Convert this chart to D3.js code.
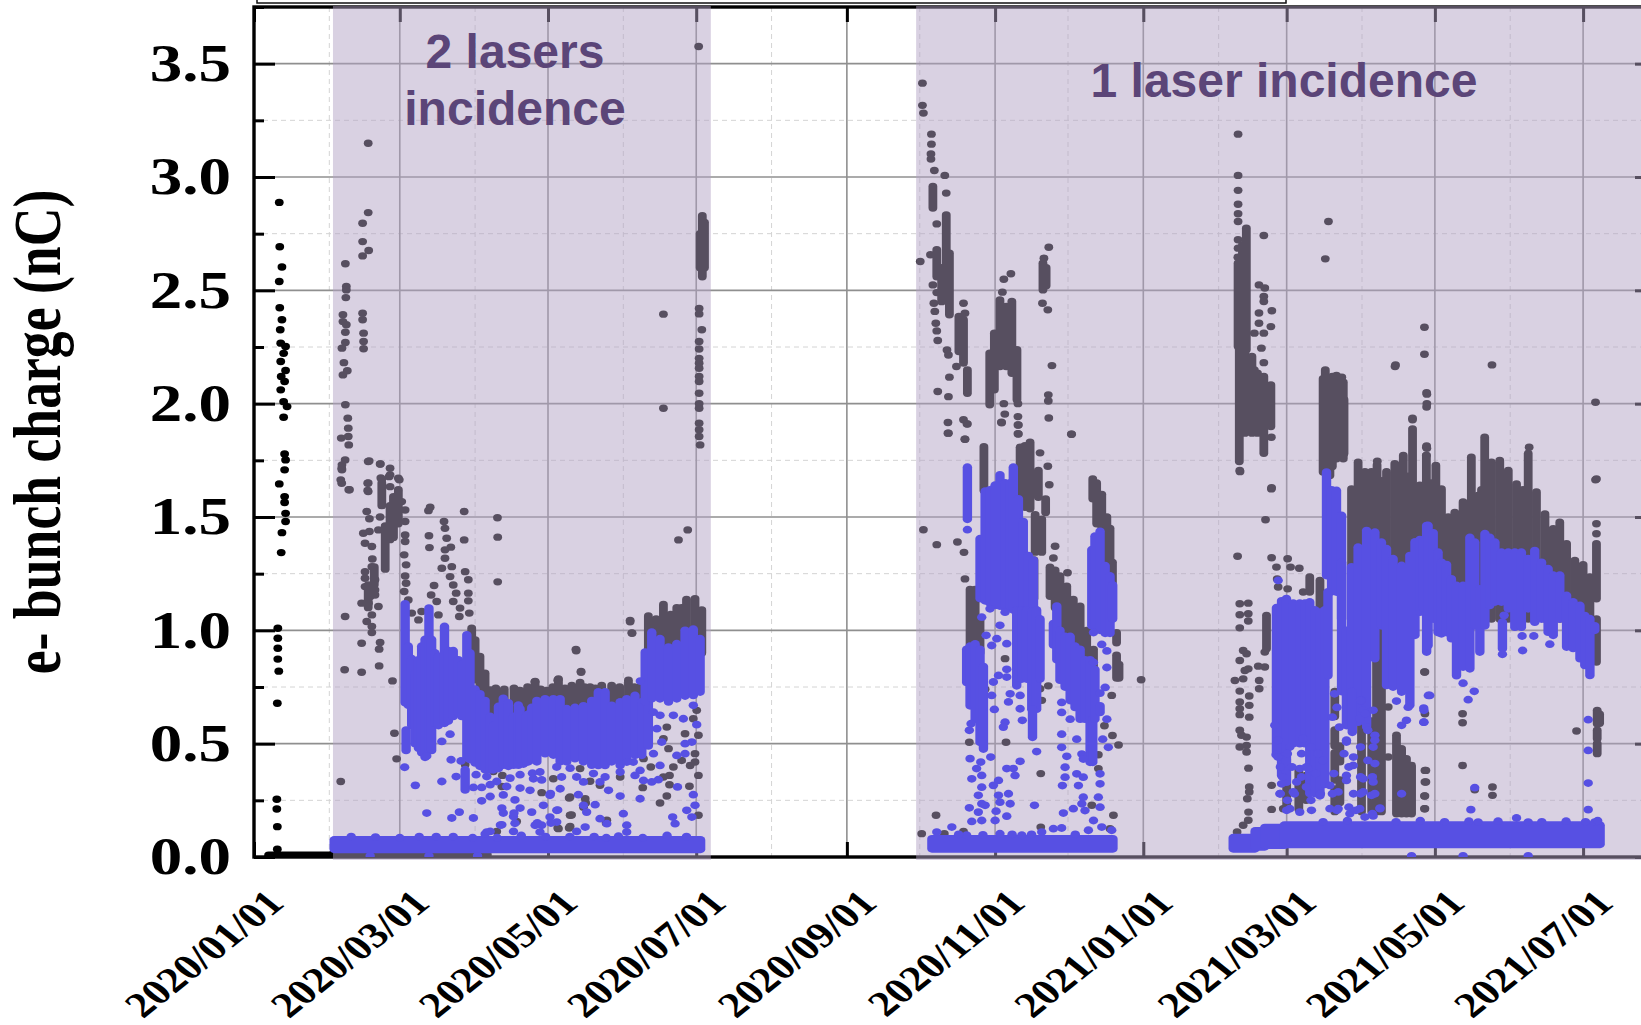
<!DOCTYPE html>
<html>
<head>
<meta charset="utf-8">
<style>
  html, body { margin: 0; padding: 0; background: #fff; overflow: hidden; }
  svg { display: block; }
</style>
<script src="https://d3js.org/d3.v7.min.js"></script>
</head>
<body>
<div id="chart"></div>
<script>
// Values. x is days since 2020/01/01, y is charge in nC.
const TICK_DATES = ['2020/01/01', '2020/03/01', '2020/05/01', '2020/07/01', '2020/09/01', '2020/11/01',
  '2021/01/01', '2021/03/01', '2021/05/01', '2021/07/01'];
const MINOR_DATES = ['2020/02/01', '2020/04/01', '2020/06/01', '2020/08/01', '2020/10/01', '2020/12/01',
  '2021/02/01', '2021/04/01', '2021/06/01', '2021/08/01'];
const Y_TICKS = [0, 0.5, 1, 1.5, 2, 2.5, 3, 3.5];
const Y_MINOR = [0.25, 0.75, 1.25, 1.75, 2.25, 2.75, 3.25, 3.75];
const BANDS = [
  { from: 32.5, to: 188, lines: ['2 lasers', 'incidence'] },
  { from: 272.5, to: 600, lines: ['1 laser incidence'] }
];

// total charge, single shots [day, nC]
const totalPoints = [
  [10.4,2.888],[10.6,2.692],[11.5,2.603],[10.4,2.539],[10.6,2.423],[11.5,2.37],[10.8,2.326],[11,2.267],[13,2.252],[12.2,2.222],[11,2.186],[13,2.146],[11.2,2.12],[12.6,2.098],[11,2.061],[12.2,2.009],[13.6,1.987],[12.2,1.94],[12.6,1.778],[13,1.752],[12.6,1.708],[10.4,1.646],[12.6,1.59],[12.6,1.564],[13,1.516],[13,1.48],[11.5,1.431],[11.2,1.343],[9.8,1.009],[9.8,.965],[9.8,.921],[9.8,.873],[10.2,.82],[9.6,.678],[9.4,.255],[9.4,.212],[9.6,.134],[9.6,.034],
  [37.6,2.617],[38,2.517],[38,2.502],[37.8,2.468],[36.6,2.392],[36.6,2.362],[38,2.348],[37.6,2.315],[37.6,2.27],[36.2,2.245],[37,2.181],[38.4,2.145],[36.6,2.127],[37.6,1.995],[38.6,1.936],[38.8,1.892],[38.8,1.855],[35.9,1.848],[39,1.818],[36.2,1.73],[36.2,1.708],[35.7,1.664],[39,1.62],
  [47,3.149],[47,2.843],[44.7,2.796],[44.7,2.715],[47.2,2.676],[44.7,2.652],[44.7,2.399],[44.7,2.37],[45.1,2.311],[45.1,2.274],[45.1,2.242],[47,1.745],[52,1.734],[56,1.715],[55.6,1.678],[59.8,1.664],[52.2,1.672],[56,1.634],[47,1.65],[47,1.612],
  [36.1,1.715],[37.5,1.752],[36.1,1.649],[39.3,1.62],[47.4,1.747],[51.9,1.734],[56,1.686],[59.4,1.671],[52.6,1.666],[46.8,1.649],[46.8,1.617],
  [46.4,1.524],[47.5,1.492],[45,1.428],[47.5,1.436],[45.7,1.384],[48.5,1.37],[48.7,1.315],[45.7,1.259],[48.5,1.281],[45.7,1.23],[49.8,1.223],[45.7,1.193],[49.8,1.178],[49.8,1.156],[47.8,1.149],[44.3,1.12],[47.1,1.12],[51.2,1.105],[48.5,1.068],[46.4,1.039],[48.5,1.017],[48.5,.99],[44.3,.943],[51.9,.946],[51.5,.917],[37.5,1.061],[37.3,.826],[44.3,.815],[51.5,.843],[57,.777],[57.8,.546],[58.7,.433],[35.7,.333],
  [72.5,1.543],[71.8,1.528],[72,1.417],[72.2,1.365],[78.2,1.48],[78.6,1.45],[79.3,1.406],[78.6,1.355],[81,1.367],[78.6,1.318],[77.3,1.274],[81.4,1.281],[80.7,1.237],[82,1.2],[83.2,1.164],[82,1.127],[84.8,1.098],[84.5,1.061],[86.9,1.259],[88.2,1.223],[88.2,1.164],[88.2,1.13],[88.6,1.076],[86.5,1.524],[86.5,1.399],[100.2,1.497],[100.3,1.411],[100.3,1.214],[74.1,1.198],[72.9,1.156],[75.2,1.127],[75.9,1.068],[69,1.083],[67.7,1.046],[64.9,1.076],[61.8,1.171],[63.5,1.134],[62.6,1.208],[62.2,1.24],[62.6,1.289],[61.8,1.333],[62.2,1.392],[62.2,1.421],[62.2,1.48],[62.2,1.531],[60.8,1.568],[59.4,1.62],[51.9,1.5],[51.2,1.443],
  [168.5,2.395],[168.5,1.98],[183,3.576],[183.2,2.42],[183.2,2.396],[184.3,2.326],[183.2,2.274],[183.2,2.241],[183.2,2.2],[183.2,2.178],[183.2,2.156],[183.2,2.12],[183.2,2.098],[183.2,2.046],[183.2,2],[183.2,1.98],[183.2,1.914],[183.2,1.885],[183.2,1.855],[183.6,1.818],[178.5,1.443],[174.7,1.399],[154.8,1.038],[155.6,.987],[132.6,.91],[134.6,.815],[125,.78],[115.6,.772],
  [154.8,1.044],[155.5,.989],[132.5,.916],[134.6,.819],[125.3,.786],[115.7,.775],[160.3,.434],[163.3,.397],[172.6,.397],[171,.36],[168.5,.353],[171,.319],[160,.306],[179.2,.312],[169.9,.269],[167.1,.238],[182.9,.36],[181.5,.419],[179.5,.404],[176,.426],[170.6,.478],[168.5,.522],[169.9,.573],[177.4,.544],[180.8,.61],[182.2,.647],[182.9,.537],[181.5,.456],[182.9,.184],[150.7,.353],[138.3,.334],[142.4,.316],[134.2,.39],[130.1,.265],[130.1,.184],[130.1,.135],[136.3,.257],[135.6,.22],[125.3,.125],[118.4,.284],[123.2,.345],[145.2,.162],[86.9,.407],[98.5,.377],[102.2,.36],[102,.311],[108.1,.157],[99.9,.113],[129.7,.26],[130.7,.185],[136.5,.238],[144.9,.15],[129.7,.128],[125,.128],
  [274.2,2.627],[275.1,3.414],[275.1,3.316],[275.5,3.282],[278.8,3.189],[278.8,3.145],[278.6,3.102],[278.6,3.079],[280,3.029],[284.3,3.007],[284.9,2.929],[281,2.793],[278.4,2.657],[279.4,2.524],[281,2.49],[279.8,2.443],[280.2,2.407],[280.6,2.355],[281,2.321],[281.4,2.279],[285.2,2.237],[285.8,2.215],[292,2.443],[292.6,2.399],[289.1,2.164],[286.2,2.117],[281.4,2.054],[285.8,2.031],[292,1.929],[293.4,1.911],[285.6,1.917],[285.6,1.87],[292.6,1.843],[308.6,2.549],[311.5,2.573],[308,2.492],[308.6,2],[309,1.954],[307.6,1.918],[314.4,2],[314.4,1.943],[314.4,1.906],[314.4,1.867],[327.1,2.69],[325.1,2.642],[324.5,2.443],[326.7,2.414],[328.4,2.168],[326.9,2.039],[326.9,2.012],[327.1,1.937],[336.4,1.865],
  [323.5,1.783],[326.7,1.724],[327.3,1.642],[329.7,1.371],[329,1.319],[334.8,1.254],[336.5,1.865],[323.8,.368],[285.8,1.87],[292.6,1.843],[293.6,1.91],[307.7,1.916],[314.6,1.906],[314.6,1.866],[275.5,1.444],[281,1.378],[289.5,1.39],[292.2,1.344],[292.6,1.227],[294.4,.506],[309.5,.506],[309.1,.875],[280.7,.184],[274.8,.103],[284.1,.103],[292,.113],[323.8,.132],[353.7,.184],[352.3,.125],[344.8,.228],[347.5,.39],[347.5,.451],[350,.579],[353.3,.536],[355.8,.494],[353,.713],[365.1,.782],[300.9,.74],[323.5,.742],[326.9,.755],[324.2,.691],
  [405,3.189],[405,3.007],[405,2.941],[405,2.88],[405,2.838],[405,2.804],[405,2.723],[405,2.686],[404.9,2.646],[415.6,2.742],[413.6,2.524],[416,2.51],[415.6,2.473],[415.6,2.451],[418.9,2.41],[413.6,2.4],[413.6,2.355],[418.5,2.34],[411.7,2.311],[415.6,2.311],[414.6,2.245],[415.6,2.181],[411.7,2.149],[405.8,1.7],[418.7,1.852],[418.7,1.624],[442.2,2.804],[440.9,2.639],[447.7,2.117],[481.7,2.337],[481.7,2.218],[469.6,2.164],[482.7,2.042],[482.7,2],[476.8,1.929],[509.5,2.171],[552.1,2.006],[552.1,1.664],[482.7,1.803],
  [405.7,1.705],[418.8,1.629],[416.3,1.488],[404.8,1.327],[418.8,1.32],[425.4,1.316],[420.8,1.279],[426.6,1.279],[430.2,1.274],[421.1,1.227],[421.5,1.191],[425.4,1.183],[431.8,1.169],[405.7,1.117],[409.2,1.12],[405.7,1.069],[409.2,1.073],[409.2,1.041],[405.7,1.011],[416,.904],[407.1,.911],[408.5,.897],[405.7,.867],[409.2,.83],[407.8,.823],[407.1,.786],[403.7,.779],[413.3,.842],[416,.838],[413.7,.779],[413.7,.742],[405.7,.732],[409.6,.71],[405.7,.684],[405.7,.654],[405.7,.628],[409.6,.669],[409.6,.617],[405.7,.559],[406.4,.537],[408.5,.529],[405.7,.485],[408.5,.492],[408.5,.463],[409.3,.392],[409.6,.309],[409.6,.287],[408.8,.257],[409.3,.198],[418.8,.316],[418.8,.21],[409.2,.162],[407.1,.14],[404.6,.11],[423.6,.213],[466.8,.441],[462.3,1.746],[469.8,2.171],[476.8,1.936],[482.6,2.048],[482.6,1.985],[482.6,1.813],[466.8,.662],[481.9,.816],[481.9,.382],[481.9,.331],[481.9,.269],[481.9,.213],
  [481.7,.816],[497.4,.845],[481.9,.632],[497.4,.632],[497.4,.592],[497.4,.404],[544.3,.556],[482.3,.382],[482.3,.331],[481.7,.269],[481.7,.213],[502.4,.297],[509.7,.309],[509.7,.272],[482.5,1.808],[482.5,1.771],[513.4,1.433],[524.8,1.808],[552.5,1.668],[552.5,1.47],[552.5,1.426]
];
// total charge, clouds too dense to tell shots apart [day, low, high]
const totalColumns = [
  [52.6,1.55,1.65],[54,1.27,1.46],[56,1.4,1.55],[57.4,1.41,1.59],[59.4,1.47,1.61],[49.5,1.2,1.28],[47,1.1,1.2],
  [89.6,.811,1.009],[91,.782,.958],[93,.723,.885],[95.1,.679,.811],[97.2,.62,.737],[98.3,.55,.7],
  [99.5,.6,.745],[103,.6,.74],[107,.6,.745],[109.5,.6,.735],[112.6,.6,.75],[115.7,.6,.77],[118,.6,.74],[120.5,.6,.735],[123,.6,.75],[125.3,.6,.78],[128,.6,.745],[130.8,.6,.757],[134.2,.6,.77],[136,.6,.75],[138.3,.6,.75],[140.5,.6,.745],[143.1,.6,.757],[147.2,.6,.757],[150.5,.6,.75],[154.1,.6,.78],[156.5,.6,.75],[158.9,.6,.75],
  [162.3,.9,1.063],[165.5,.9,1.05],[168.5,.9,1.114],[171.5,.9,1.07],[174,.9,1.1],[176,.9,1.1],[178,.9,1.136],[181.5,.9,1.14],[184.3,.9,1.09],[184.5,2.56,2.829],[183.6,2.6,2.75],[185.4,2.6,2.8],
  [279.4,2.863,2.958],[281,2.56,2.679],[284.9,2.605,2.833],[286.2,2.392,2.664],[283,2.45,2.6],[290.1,2.23,2.385],[292,2.179,2.37],[293.6,2.046,2.149],
  [302.8,1.995,2.223],[304.7,2.061,2.311],[307,2.164,2.458],[309.6,2.164,2.429],[311.9,2.134,2.451],[314,2.017,2.238],[324.7,2.502,2.62],[326,2.52,2.6],
  [300.4,1.617,1.81],[315.3,1.58,1.808],[317.3,1.543,1.815],[319.4,1.536,1.83],[322.8,1.587,1.705],[325.8,1.52,1.58],[321.5,1.345,1.51],[324.2,1.345,1.49],[321,1.14,1.31],
  [294.7,.93,1.18],[296.8,.93,1.18],[298.8,.9,1.048],[345.2,1.58,1.668],[346.8,1.47,1.65],[348.9,1.4,1.6],[351,1.3,1.5],[352.3,1.2,1.45],[353.3,1.2,1.3],
  [327.6,1.15,1.278],[329.7,1.1,1.265],[331.7,1.02,1.24],[334.5,.975,1.195],[337.2,.93,1.136],[340,.917,1.107],[342.7,.875,1],[345.5,.815,.916],[355,.945,.99],[355,.79,.89],[356,.79,.85],
  [408.4,2.238,2.774],[405,2.252,2.62],[406.8,2.25,2.7],[405.5,1.745,2.238],[407.8,1.87,2.223],[410.7,1.87,2.208],[413,1.87,2.134],[415.6,1.781,2.12],[418.5,1.899,2.083],
  [440.9,1.723,2.149],[443.8,1.723,2.12],[446.7,1.767,2.112],[448.6,1.78,2.017],[440,1.698,2.11],[442.8,1.683,2.11],[445.5,1.757,2.124],[448.3,1.757,2.095],
  [451.7,1.2,1.624],[454.4,1.2,1.742],[457.2,1.2,1.7],[459.9,1.2,1.7],[462.2,1.2,1.73],[464.2,1.2,1.66],[466.1,1.2,1.7],[469.5,1.2,1.735],[471.2,1.2,1.72],[473,1.2,1.771],[475,1.2,1.68],[476.8,1.2,1.889],[479.8,1.2,1.64],
  [482.5,1.2,1.771],[484.5,1.2,1.65],[486.4,1.2,1.727],[488.7,1.2,1.624],[491.5,1.05,1.5],[494.2,1.05,1.52],[497.6,1.05,1.566],[499.5,1.05,1.55],[501,1.05,1.764],[503.8,1.05,1.595],[505.2,1.05,1.62],[506.5,1.05,1.852],[509.3,1.05,1.742],[512.7,1.05,1.749],[516.2,1.05,1.705],[519.6,1.05,1.646],[522.3,1.05,1.62],[524.4,1.05,1.78],[527.8,1.05,1.61],[531.3,1.05,1.514],[534.7,1.05,1.448],[537.4,1.05,1.477],[540.2,1.05,1.382],[543.6,1.05,1.308],[547,1.05,1.29],[549.8,1.05,1.235],[552.5,1.139,1.382],[552.5,.86,1.05],
  [552.8,.588,.647],[552.8,.522,.559],[552.8,.456,.5],[553.8,.59,.63],
  [416.7,.919,1.066],[434.5,1.169,1.235],[438.7,1.11,1.22],
  [444.8,.62,.73],[444.8,.49,.56],[444.8,.34,.46],[444.8,.2,.3],[446.9,.24,.34],[446.9,.42,.49],[455.8,.2,.7],[460,.2,.6],[462,.2,1],[464,.2,1.02],
  [470.2,.191,.537],[472.3,.191,.478],[474.3,.191,.434],[476.4,.191,.404],[425,.213,.43],[430,.21,.38],[433,.25,.36]
];
// thin row of near-zero shots [day from, day to, low, high]
const totalRows = [
  [6,32.5,.004,.008],[32.5,96,.004,.012]
];

// charge inside the gate, single shots [day, nC]
const gatedPoints = [
  [159,.776],[164.4,.639],[167.1,.625],[165.8,.566],[172.6,.625],[176.7,.61],[180.8,.669],[182.2,.584],[180.2,.507],[177.4,.5],[174,.448],[177.4,.456],[167.8,.507],[164.4,.456],[167.1,.404],[158.9,.382],[156.1,.419],[153.4,.419],[150.7,.375],[156.8,.36],[160.3,.338],[163.7,.331],[166.4,.341],[158.9,.257],[150.7,.269],[145.9,.294],[144.5,.353],[142.4,.331],[139.7,.368],[135.6,.331],[132.8,.353],[130.1,.392],[126.6,.353],[124.6,.397],[117.7,.375],[115,.345],[113.6,.294],[126,.301],[121.8,.272],[133.5,.275],[135.6,.228],[140.4,.231],[136.9,.198],[124.6,.206],[119.1,.228],[114.3,.198],[121.8,.176],[124.6,.154],[152,.191],[153.4,.14],[153.4,.11],[145.2,.147],[142.4,.169],[136.3,.132],[132.8,.113],[118.4,.14],[115.7,.14],[117.7,.11],[180.8,.275],[181.5,.228],[178.1,.206],[180.2,.176],[172.3,.176],[173.3,.147],[174.3,.309],
  [62,.396],[71.1,.446],[66.4,.316],[77.3,.51],[80.7,.542],[81.1,.429],[85.2,.424],[77.3,.333],[83.2,.355],[71.1,.194],[84.5,.198],[81.4,.172],[90.3,.172],[91.4,.363],[95.8,.355],[99.9,.333],[93.7,.307],[90.3,.307],[97.2,.319],[93.7,.248],[97.2,.267],[104,.311],[109.5,.363],[105.4,.348],[102.6,.274],[109.5,.304],[107.4,.252],[102,.216],[109.5,.216],[102.6,.194],[106.8,.179],[102,.142],[97.2,.113],[95.1,.101],[107.4,.149],[106.8,.113],[114.6,.37],[118.4,.34],[122,.28],[116.6,.15],[122.2,.15],[125,.207],[107,.194],[101.4,.141],[95.8,.11],
  [60,.085],[75,.09],[90,.085],[100,.085],[130,.09],[145,.085],[160,.085],[178,.09],[47.8,.005],[72,.005],[92,.005],
  [40,.09],[50,.088],[68,.09],[82,.09],[110,.095],[120,.09],[140,.09],[150,.092],[170,.095],
  [293.6,1.444],[299.5,1.058],[302.9,1.095],[309.1,1.08],[307,1.022],[301.3,.978],[305.7,.963],[303.6,.933],[309.8,.941],[304.3,.772],[306.4,.801],[309.8,.794],[303.6,.713],[311.2,.72],[310.5,.684],[304.7,.651],[315.3,.713],[315.3,.654],[316.2,.603],[309.1,.595],[308.4,.573],[294.4,.559],[295.1,.588],[303.2,.441],[294.7,.434],[299.1,.419],[297.4,.39],[315.3,.422],[309.8,.39],[312.5,.39],[313.2,.36],[299.5,.36],[295.4,.345],[306.4,.338],[304.3,.316],[299.5,.308],[298.1,.272],[310.5,.279],[306.4,.272],[299.5,.235],[311.2,.235],[307,.242],[300.9,.228],[294.4,.217],[298.1,.198],[305.4,.202],[299.5,.161],[295.4,.157],[305,.161],[309.8,.18],[321.2,.228],[322.1,.465],[309.8,.828],
  [332.4,.682],[332.4,.638],[335.9,.608],[332.4,.542],[338.6,.52],[332.4,.484],[334.5,.444],[333.8,.396],[338.6,.367],[333.8,.352],[332.7,.315],[339.3,.315],[341.3,.352],[340.7,.454],[341.3,.432],[349.3,.52],[351.6,.484],[348.2,.367],[348.2,.323],[341.3,.264],[347.5,.264],[348.2,.22],[340.7,.235],[337.2,.213],[333.1,.194],[342,.205],[345.5,.161],[345.5,.858],[351,.836],[348.2,.723],[350.3,.748],[351,.608],[345.5,.99],[348.9,.938],[351,.909],
  [281,.11],[287.2,.132],[293.3,.096],[307,.103],[316,.096],[324.2,.11],[329,.125],[332.4,.128],[343.4,.118],[348.9,.132],[353,.118],[290,.1],[300,.098],[312,.1],[320,.1],[338,.1],
  [421.5,1.22],[420.1,.581],[420.6,.451],[422.9,.323],[427.7,.287],[422.2,.279],[429.1,.331],[426.3,.213],[431.8,.522],[430.4,.39],[433.9,.39],[442.8,.316],[446.2,.287],[449.6,.36],[449.6,.507],[452.4,.404],[456.5,.345],[456.5,.287],[460.6,.331],[459.9,.272],[461.3,.537],[460.6,.485],[457.9,.573],[455.8,.691],[456.5,.647],[460.6,.647],[455.1,.61],[463.4,.213],[455.1,.213],[451,.191],[442.8,.213],[446.2,.213],[460.6,.181],[472.3,.279],[470.2,.688],[475,.661],[474.3,.603],[472.3,.581],[481.5,.647],[481.5,.595],[483.3,.713],
  [421.4,.441],[422.4,.397],[423.3,.353],[422.4,.279],[425.3,.25],[428.2,.279],[427.2,.397],[431.1,.353],[433.1,.397],[433.1,.309],[435,.25],[437,.368],[438.9,.279],[439.9,.426],[437.9,.456],[431.1,.456],[435,.485],[426.3,.485],[425.3,.456],[421.4,.515],
  [444.7,.72],[445.7,.66],[443.8,.617],[446.7,.573],[449.6,.515],[452.5,.441],[450.6,.397],[449.6,.338],[452.5,.279],[455.4,.691],[457.4,.632],[458.4,.559],[461.3,.515],[455.4,.485],[458.4,.426],[461.3,.412],[460.3,.353],[455.4,.353],[455.4,.279],[450.6,.22],[453.5,.206],[460.3,.191],[445.7,.206],[461.3,.279],[443.8,.279],[448.6,.456],[444.4,.368],
  [514.5,1.066],[513.8,.894],[521.9,.975],[526.7,.975],[522.1,.911],[533.3,.939],[497.6,.767],[502.2,.731],[499.7,.694],[483.9,.713],[481.4,.657],[481.4,.595],[549.1,.606],[549.1,.47],[549.1,.326],[549.1,.209],[502.4,.306],[500.8,.209],
  [425,.206],[430.4,.198],[435.2,.206],[457.2,.176],[463.4,.216],[519.6,.172],[503.8,.154],[524.4,.154],[551.8,.154],[497.6,.005],[524.4,.005],[476.4,.005],
  [440,.155],[450,.16],[470,.155],[480,.16],[490,.155],[500,.158],[512,.158],[530,.155],[540,.158],[548,.155],[553,.16]
];
// charge inside the gate, dense clouds [day, low, high]
const gatedColumns = [
  [62.2,.68,1.117],[62.6,.47,.56],[63.5,.67,.93],[64.9,.58,.875],[66.3,.5,.81],[67.7,.48,.87],[69,.46,.93],[70.4,.44,.96],[72,.47,1.098],[73.1,.47,.96],[74.5,.59,.9],[75.9,.58,.885],[78.4,.59,1.017],[80,.6,.91],[82,.62,.91],[84.1,.635,.87],[85.5,.62,.85],[86.9,.296,.385],[87.6,.44,.98],[88.9,.43,.9],[91,.415,.74],[93,.4,.72],[95.1,.385,.69],[97.2,.385,.62],[98.5,.385,.58],[100.6,.39,.664],[102.6,.405,.7],[104.7,.4,.68],[106.8,.405,.62],[108.8,.405,.67],[110.9,.41,.62],[112.9,.42,.63],
  [109.5,.434,.654],[112.2,.42,.625],[114.3,.43,.66],[116.4,.42,.69],[119.8,.456,.698],[123.2,.45,.698],[126,.42,.698],[128.7,.42,.654],[132.1,.434,.66],[135.6,.42,.667],[139,.405,.69],[141.7,.404,.728],[144.5,.404,.728],[147.2,.42,.669],[150.7,.404,.684],[153.4,.434,.698],[156.8,.449,.713],[159.6,.449,.684],[162.3,.49,.684],
  [161,.684,.904],[163.7,.698,.992],[167.1,.698,.963],[170.6,.684,.926],[174,.698,.941],[177.4,.71,1],[180.8,.713,1.005],[183.6,.728,.963],
  [293.6,1.49,1.72],[298.8,1.14,1.404],[300.9,1.13,1.614],[302.9,1.12,1.62],[305,1.11,1.64],[307,1.107,1.686],[309.1,1.1,1.65],[311.2,1.1,1.65],[312.5,1.09,1.72],[314.6,1.09,1.58],[316.6,1.09,1.48],[318.7,1.09,1.33],[320.8,1.09,1.31],
  [313.9,.755,1.09],[316,.785,1.09],[318,.785,1.09],[320.1,.652,1.085],[322.1,.652,1.09],[323.5,.785,1.05],[320.4,.528,.652],
  [293.3,.77,.916],[294.7,.667,.93],[296.8,.608,.94],[298.8,.506,.916],[300.2,.476,.84],
  [329,.935,1.03],[330.4,.87,1.107],[331.7,.78,1],[333.8,.75,.973],[335.9,.69,.973],[337.9,.66,.93],[340,.608,.916],[342,.608,.87],[344.1,.418,.87],[345.2,.418,.608],[346.1,.608,.827],[348.2,.638,.667],
  [344.8,1.02,1.356],[346.1,1.012,1.415],[348.2,1,1.437],[350.3,.987,1.285],[352.3,.987,1.24],[353.4,1.05,1.2],
  [420.8,.46,1.1],[422.9,.36,1.13],[424.9,.33,1.14],[427.7,.5,1.12],[430.4,.5,1.12],[432.5,.5,1.12],[434.5,.28,1.125],[436.6,.28,1.09],[438.7,.27,1.08],[440.7,.32,1.09],
  [441.4,1.242,1.698],[443.5,1.17,1.62],[445.5,1.169,1.617],[447.6,1.05,1.507],[447.6,.73,1.3],[449.6,.58,1],[442,.8,1.17],
  [451.7,.6,1.28],[454.4,.595,1.367],[457.9,.58,1.44],[461.3,.875,1.433],[464,1.02,1.389],[466.1,.757,1.36],[468.8,.75,1.316],[472.3,.728,1.286],[475.7,.67,1.33],[477.8,.978,1.39],[479.8,1.08,1.4],[482.6,.904,1.462],[452,.55,.73],
  [481.2,1.1,1.4],[483.2,.933,1.463],[485.3,1.05,1.43],[487.3,.99,1.345],[488.7,.985,1.3],[490.8,.99,1.29],[492.8,.963,1.227],[494.9,.8,1.198],[497.6,.838,1.198],[500.4,.83,1.41],[502.4,1.02,1.389],[504.5,.904,1.183],[506.6,1.02,1.426],[508.6,1.11,1.41],[510.7,1.125,1.389],[513.4,1.125,1.345],[516.2,1.095,1.345],[518.9,1.014,1.345],[521.6,1.014,1.345],[524.4,1.095,1.316],[527.1,1.036,1.352],[529.9,1.05,1.3],[532.6,.992,1.272],[534.7,.978,1.243],[537.4,1.05,1.243],[540.2,.926,1.154],[542.9,.92,1.125],[545.7,.875,1.11],[547.7,.845,1.065],[549.8,.801,1.051],[551.8,1,1.02],[513.8,.919,1.036]
];
// the low band that runs along the axis [day from, day to, low, high]
const gatedRows = [
  [33,183.8,.034,.075],[279,353.5,.036,.08],[403,412,.036,.085],[412,416,.045,.115],[416,424,.052,.13],[424,554,.056,.14]
];

const W = 1641, H = 1025;
const start = new Date(Date.UTC(2020, 0, 1));
const parseDate = d3.utcParse('%Y/%m/%d');
const dayToDate = d => new Date(+start + d * 864e5);

const xScale = d3.scaleUtc().domain([start, dayToDate(577)]).range([254, 1656]);
const yScale = d3.scaleLinear().domain([0, 3.75]).range([857, 7]);
const xDay = d => xScale(dayToDate(d));

const svg = d3.select('#chart').append('svg').attr('width', W).attr('height', H);

svg.append('clipPath').attr('id', 'plot').append('rect')
  .attr('x', 254).attr('y', 7).attr('width', 1402).attr('height', 850);

// ── cut off legend box above the frame ──────────────────────
svg.append('rect')
  .attr('x', 257).attr('y', -6).attr('width', 1029).attr('height', 9)
  .attr('fill', '#fff').attr('stroke', '#111').attr('stroke-width', 1.5);

// ── grid ────────────────────────────────────────────────────
const grid = svg.append('g');
grid.selectAll('.minor-x').data(MINOR_DATES).join('line')
  .attr('x1', d => xScale(parseDate(d))).attr('x2', d => xScale(parseDate(d)))
  .attr('y1', 7).attr('y2', 857)
  .attr('stroke', '#d4d4d4').attr('stroke-width', 1).attr('stroke-dasharray', '5 4');
grid.selectAll('.minor-y').data(Y_MINOR).join('line')
  .attr('x1', 254).attr('x2', 1656)
  .attr('y1', d => yScale(d)).attr('y2', d => yScale(d))
  .attr('stroke', '#d4d4d4').attr('stroke-width', 1).attr('stroke-dasharray', '5 4');
grid.selectAll('.major-x').data(TICK_DATES).join('line')
  .attr('x1', d => xScale(parseDate(d))).attr('x2', d => xScale(parseDate(d)))
  .attr('y1', 7).attr('y2', 857)
  .attr('stroke', '#8f8f8f').attr('stroke-width', 1.6);
grid.selectAll('.major-y').data(Y_TICKS).join('line')
  .attr('x1', 254).attr('x2', 1656)
  .attr('y1', d => yScale(d)).attr('y2', d => yScale(d))
  .attr('stroke', '#8f8f8f').attr('stroke-width', 1.6);

// dots are wider than tall in the source picture
function drawSeries(parent, points, columns, rows, color, rx, ry) {
  const g = parent.append('g').attr('clip-path', 'url(#plot)').attr('fill', color);
  g.selectAll('.row').data(rows).join('rect')
    .attr('x', d => xDay(d[0]) - rx).attr('width', d => xDay(d[1]) - xDay(d[0]) + 2 * rx)
    .attr('y', d => yScale(d[3]) - ry).attr('height', d => yScale(d[2]) - yScale(d[3]) + 2 * ry)
    .attr('rx', rx).attr('ry', ry);
  g.selectAll('.col').data(columns).join('rect')
    .attr('x', d => xDay(d[0]) - rx).attr('width', 2 * rx)
    .attr('y', d => yScale(d[2]) - ry).attr('height', d => yScale(d[1]) - yScale(d[2]) + 2 * ry)
    .attr('rx', rx).attr('ry', ry);
  g.selectAll('ellipse').data(points).join('ellipse')
    .attr('cx', d => xDay(d[0])).attr('cy', d => yScale(d[1]))
    .attr('rx', rx).attr('ry', ry);
}

drawSeries(svg, totalPoints, totalColumns, totalRows, '#000', 4.4, 3.7);

// ── frame and ticks ─────────────────────────────────────────
const tickDates = TICK_DATES.map(parseDate);
const frame = svg.append('g');

function styleAxis(sel) {
  sel.select('.domain').remove();
  sel.selectAll('.tick text').remove();
  sel.selectAll('.tick line').attr('stroke', '#000').attr('stroke-width', 3);
}

frame.append('g').attr('transform', 'translate(0,857)')
  .call(d3.axisTop(xScale).tickValues(tickDates).tickSize(15)).call(styleAxis);
frame.append('g').attr('transform', 'translate(0,7)')
  .call(d3.axisBottom(xScale).tickValues(tickDates).tickSize(15)).call(styleAxis);
frame.append('g').attr('transform', 'translate(254,0)')
  .call(d3.axisRight(yScale).tickValues(Y_TICKS).tickSize(21)).call(styleAxis);
frame.append('g').attr('transform', 'translate(254,0)')
  .call(d3.axisRight(yScale).tickValues(Y_MINOR).tickSize(10)).call(styleAxis);
frame.append('g').attr('transform', 'translate(1656,0)')
  .call(d3.axisLeft(yScale).tickValues(Y_TICKS).tickSize(21)).call(styleAxis);
frame.append('rect').attr('x', 254).attr('y', 7).attr('width', 1402).attr('height', 850)
  .attr('fill', 'none').attr('stroke', '#000').attr('stroke-width', 3.4);

// ── shaded periods sit over the grey cloud and the frame ────
svg.append('g').selectAll('rect').data(BANDS).join('rect')
  .attr('x', d => xDay(d.from)).attr('width', d => xDay(d.to) - xDay(d.from))
  .attr('y', 6).attr('height', 854)
  .attr('fill', '#b2a1c4').attr('fill-opacity', 0.49);

drawSeries(svg, gatedPoints, gatedColumns, gatedRows, '#5750e3', 4.7, 3.9);

// ── labels ──────────────────────────────────────────────────
const serif = '"Liberation Serif", serif';
svg.append('g').selectAll('text').data(Y_TICKS).join('text')
  .attr('transform', d => `translate(231,${yScale(d)}) scale(1.25,1)`)
  .attr('dy', '0.33em').attr('text-anchor', 'end')
  .attr('font-family', serif).attr('font-weight', 'bold').attr('font-size', 52)
  .attr('fill', '#000').text(d => d3.format('.1f')(d));

svg.append('g').selectAll('text').data(TICK_DATES).join('text')
  .attr('transform', d => `translate(${xScale(parseDate(d)) + 32},905) scale(1.25,1) rotate(-45)`)
  .attr('text-anchor', 'end')
  .attr('font-family', serif).attr('font-weight', 'bold').attr('font-size', 35.5)
  .attr('fill', '#000').text(d => d);

svg.append('text')
  .attr('transform', 'translate(60,432) scale(1.25,1) rotate(-90)')
  .attr('text-anchor', 'middle')
  .attr('font-family', serif).attr('font-weight', 'bold').attr('font-size', 53.7)
  .attr('fill', '#000').text('e- bunch charge (nC)');

const sans = '"Liberation Sans", Arial, sans-serif';
const purple = '#5b4578';
const noteStyle = sel => sel
  .attr('text-anchor', 'middle').attr('font-family', sans).attr('font-weight', 'bold')
  .attr('font-size', 48).attr('fill', purple);
svg.append('text').attr('x', 515).attr('y', 68).call(noteStyle).text(BANDS[0].lines[0]);
svg.append('text').attr('x', 515).attr('y', 125).call(noteStyle).text(BANDS[0].lines[1]);
svg.append('text').attr('x', 1284).attr('y', 97).call(noteStyle).text(BANDS[1].lines[0]);
</script>
</body>
</html>
